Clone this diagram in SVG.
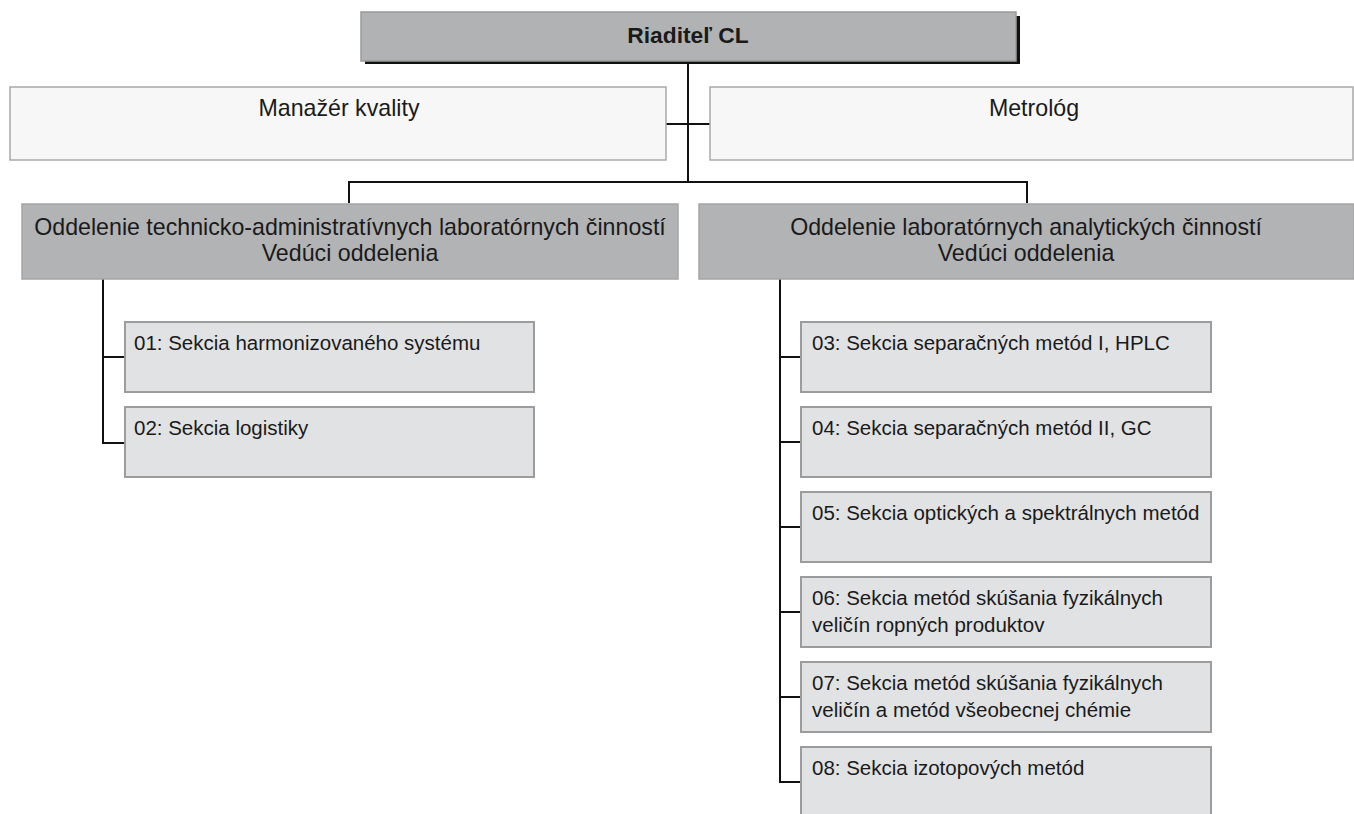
<svg xmlns="http://www.w3.org/2000/svg" width="1354" height="814" viewBox="0 0 1354 814">
<style>
text{font-family:"Liberation Sans",Arial,sans-serif;font-size:20.5px;fill:#1a1a1a}
.c{text-anchor:middle}
.L{font-size:23.2px}
.b{font-weight:bold;font-size:22.8px}
.top{fill:#b1b2b4;stroke:#9a9a9a;stroke-width:1.5}
.staff{fill:#f7f7f7;stroke:#a9a9a9;stroke-width:1.5}
.dept{fill:#b2b3b5;stroke:#a5a5a5;stroke-width:1.5}
.sec{fill:#e1e2e4;stroke:#9c9c9c;stroke-width:2}
.ln{fill:none;stroke:#111;stroke-width:2}
</style>
<rect width="1354" height="814" fill="#fff"/>
<g id="connectors">
<path class="ln" d="M688 62V182M666 124H710M349 203V182H1027V203"/>
<path class="ln" d="M103 278V443H125M103 357H125"/>
<path class="ln" d="M780 278V782H801M780 357H801M780 442H801M780 527H801M780 612H801M780 697H801"/>
</g>
<g id="riaditel">
<rect x="365" y="16" width="655" height="48" fill="#111"/>
<rect class="top" x="361" y="12" width="655" height="49"/>
<text class="c b" x="688" y="43">Riaditeľ CL</text>
</g>
<g id="manazer">
<rect class="staff" x="10" y="87" width="656" height="73"/>
<text class="c L" x="339" y="116">Manažér kvality</text>
</g>
<g id="metrolog">
<rect class="staff" x="710" y="87" width="643" height="73"/>
<text class="c L" x="1034" y="116">Metrológ</text>
</g>
<g id="dept1">
<rect class="dept" x="22" y="204" width="656" height="75"/>
<text class="c L" x="350" y="235">Oddelenie technicko-administratívnych laboratórnych činností</text>
<text class="c L" x="350" y="261">Vedúci oddelenia</text>
</g>
<g id="dept2">
<rect class="dept" x="699" y="204" width="655" height="75"/>
<text class="c L" x="1026" y="235">Oddelenie laboratórnych analytických činností</text>
<text class="c L" x="1026" y="261">Vedúci oddelenia</text>
</g>
<g id="s01"><rect class="sec" x="125" y="322" width="409" height="70"/><text x="134" y="350">01: Sekcia harmonizovaného systému</text></g>
<g id="s02"><rect class="sec" x="125" y="407" width="409" height="70"/><text x="134" y="435">02: Sekcia logistiky</text></g>
<g id="s03"><rect class="sec" x="801" y="322" width="410" height="70"/><text x="812" y="350">03: Sekcia separačných metód I, HPLC</text></g>
<g id="s04"><rect class="sec" x="801" y="407" width="410" height="70"/><text x="812" y="435">04: Sekcia separačných metód II, GC</text></g>
<g id="s05"><rect class="sec" x="801" y="492" width="410" height="70"/><text x="812" y="520">05: Sekcia optických a spektrálnych metód</text></g>
<g id="s06"><rect class="sec" x="801" y="577" width="410" height="70"/><text x="812" y="605">06: Sekcia metód skúšania fyzikálnych</text><text x="812" y="632">veličín ropných produktov</text></g>
<g id="s07"><rect class="sec" x="801" y="662" width="410" height="70"/><text x="812" y="690">07: Sekcia metód skúšania fyzikálnych</text><text x="812" y="717">veličín a metód všeobecnej chémie</text></g>
<g id="s08"><rect class="sec" x="801" y="747" width="410" height="70"/><text x="812" y="775">08: Sekcia izotopových metód</text></g>
</svg>
